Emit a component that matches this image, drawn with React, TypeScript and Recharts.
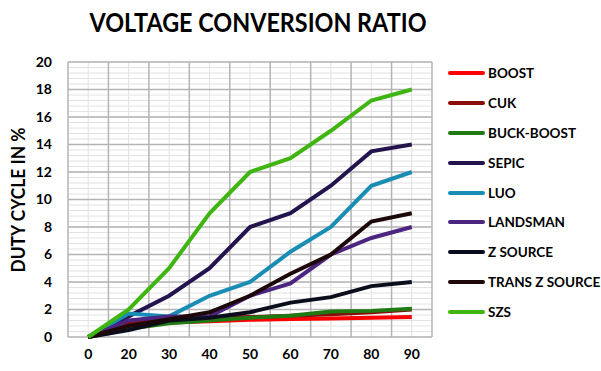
import { LineChart, Line, XAxis, YAxis, CartesianGrid } from 'recharts'

// duty cycle categories (x axis)
const dutyCycles = ['0', '20', '30', '40', '50', '60', '70', '80', '90']
const yTicks = [0, 2, 4, 6, 8, 10, 12, 14, 16, 18, 20]

// voltage conversion ratio per converter
const boost = [0, 0.9, 1.05, 1.15, 1.25, 1.3, 1.35, 1.4, 1.45]
const cuk = [0, 1.0, 1.35, 1.4, 1.45, 1.55, 1.65, 1.8, 2.0]
const buckBoost = [0, 0.6, 1.0, 1.2, 1.4, 1.55, 1.85, 1.9, 2.05]
const sepic = [0, 1.5, 3, 5, 8, 9, 11, 13.5, 14]
const luo = [0, 1.7, 1.5, 3, 4, 6.2, 8, 11, 12]
const landsman = [0, 1.2, 1.5, 1.5, 3, 3.9, 6, 7.2, 8]
const zSource = [0, 0.5, 1.2, 1.4, 1.8, 2.5, 2.9, 3.7, 4]
const transZSource = [0, 0.8, 1.3, 1.8, 3, 4.6, 6, 8.4, 9]
const szs = [0, 2, 5, 9, 12, 13, 15, 17.2, 18]

const series = [
  { key: 'boost', name: 'BOOST', values: boost, color: '#ff0000' },
  { key: 'cuk', name: 'CUK', values: cuk, color: '#8b0a0a' },
  { key: 'buckBoost', name: 'BUCK-BOOST', values: buckBoost, color: '#1f7a14' },
  { key: 'sepic', name: 'SEPIC', values: sepic, color: '#24144e' },
  { key: 'luo', name: 'LUO', values: luo, color: '#1a8db4' },
  { key: 'landsman', name: 'LANDSMAN', values: landsman, color: '#4b2580' },
  { key: 'zSource', name: 'Z SOURCE', values: zSource, color: '#0a0d1c' },
  { key: 'transZSource', name: 'TRANS Z SOURCE', values: transZSource, color: '#1c0808' },
  { key: 'szs', name: 'SZS', values: szs, color: '#3fb512' },
]

const data = dutyCycles.map((label, i) => {
  const row: Record<string, number | string> = { i, label }
  series.forEach((s) => { row[s.key] = s.values[i] })
  return row
})

const yMax = 20
const nBands = dutyCycles.length

type Off = { left: number; top: number; width: number; height: number }

// excel-style grid: major lines at band edges / every 2, minor at band centres / every 0.4
const majorV = ({ offset }: { offset: Off }) =>
  Array.from({ length: nBands + 1 }, (_, k) => offset.left + (offset.width * k) / nBands)
const minorV = ({ offset }: { offset: Off }) =>
  Array.from({ length: nBands }, (_, k) => offset.left + (offset.width * (k + 0.5)) / nBands)
const majorH = ({ offset }: { offset: Off }) =>
  yTicks.map((v) => offset.top + offset.height * (1 - v / yMax))
const minorH = ({ offset }: { offset: Off }) =>
  Array.from({ length: 51 }, (_, k) => offset.top + (offset.height * k) / 50)

const font = 'Lato, "Open Sans", sans-serif'

export default function App() {
  return (
    <div style={{ position: 'absolute', left: 0, top: 0, width: 601, height: 371, background: '#fff', fontFamily: font }}>
      <svg width={601} height={50} style={{ position: 'absolute', left: 0, top: 0 }}>
        <text x={258} y={32} textAnchor="middle" fontSize={27} fontWeight={700} fill="#000" textLength={337} lengthAdjust="spacingAndGlyphs">
          VOLTAGE CONVERSION RATIO
        </text>
      </svg>
      <svg width={40} height={371} style={{ position: 'absolute', left: 0, top: 0 }}>
        <text x={0} y={0} transform="translate(25,200) rotate(-90)" textAnchor="middle" fontSize={18} fontWeight={700} fill="#000" textLength={145} lengthAdjust="spacingAndGlyphs">
          DUTY CYCLE IN %
        </text>
      </svg>

      <LineChart width={601} height={371} data={data} margin={{ top: 62, right: 169, bottom: 4, left: 28 }} style={{ position: 'absolute', left: 0, top: 0 }}>
        <CartesianGrid stroke="#e2e2e2" strokeWidth={1} verticalCoordinatesGenerator={minorV} horizontalCoordinatesGenerator={minorH} />
        <CartesianGrid stroke="#b4b4b4" strokeWidth={1.5} verticalCoordinatesGenerator={majorV} horizontalCoordinatesGenerator={majorH} />
        <XAxis
          type="number"
          dataKey="i"
          domain={[-0.5, nBands - 0.5]}
          ticks={dutyCycles.map((_, i) => i)}
          tickFormatter={(v: number) => dutyCycles[v]}
          axisLine={false}
          tickLine={false}
          tickSize={0}
          tickMargin={12}
          height={30}
          tick={{ fill: '#000', fontSize: 14, fontWeight: 700, fontFamily: font }}
        />
        <YAxis
          type="number"
          domain={[0, yMax]}
          ticks={yTicks}
          axisLine={false}
          tickLine={false}
          tickSize={0}
          tickMargin={16}
          width={40}
          tick={{ fill: '#000', fontSize: 14, fontWeight: 700, fontFamily: font }}
        />
        {series.map((s) => (
          <Line
            key={s.key}
            type="linear"
            dataKey={s.key}
            name={s.name}
            stroke={s.color}
            strokeWidth={4}
            dot={false}
            isAnimationActive={false}
          />
        ))}
      </LineChart>

      {/* legend */}
      <div style={{ position: 'absolute', left: 448, top: 58 }}>
        {series.map((s) => (
          <div key={s.key} style={{ display: 'flex', alignItems: 'center', height: 29.9 }}>
            <div style={{ width: 37, height: 4, background: s.color, borderRadius: 2, marginRight: 3 }} />
            <span style={{ fontSize: 13.5, fontWeight: 700, color: '#000', whiteSpace: 'nowrap' }}>{s.name}</span>
          </div>
        ))}
      </div>
    </div>
  )
}
